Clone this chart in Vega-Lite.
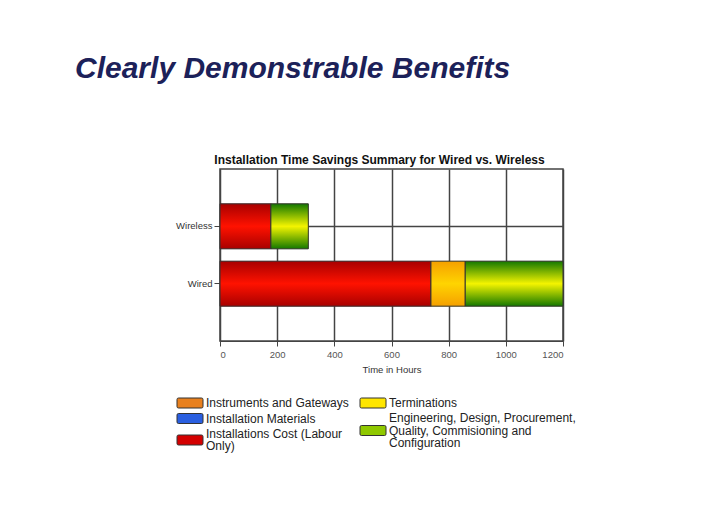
{
  "$schema": "https://vega.github.io/schema/vega-lite/v6.json",
  "width": 343,
  "height": 172,
  "autosize": {"type": "none"},
  "padding": {"left": 220, "top": 169, "right": 147, "bottom": 182},
  "background": "white",
  "title": {
    "text": "Clearly Demonstrable Benefits",
    "anchor": "start",
    "frame": "group",
    "dx": -145,
    "offset": 69,
    "font": "Liberation Sans",
    "fontSize": 30,
    "fontStyle": "italic",
    "fontWeight": "bold",
    "color": "#1c2159"
  },
  "config": {
    "view": {"stroke": "#444", "strokeWidth": 1.5},
    "font": "Liberation Sans",
    "axis": {"labelFont": "Liberation Sans", "titleFont": "Liberation Sans"},
    "legend": {"labelFont": "Liberation Sans"}
  },
  "data": {
    "values": [
      {"tech": "Wireless", "category": "Installations Cost (Labour Only)", "hours": 178, "order": 1},
      {"tech": "Wireless", "category": "Engineering, Design, Procurement, Quality, Commisioning and Configuration", "hours": 131, "order": 3},
      {"tech": "Wired", "category": "Installations Cost (Labour Only)", "hours": 738, "order": 1},
      {"tech": "Wired", "category": "Terminations", "hours": 120, "order": 2},
      {"tech": "Wired", "category": "Engineering, Design, Procurement, Quality, Commisioning and Configuration", "hours": 342, "order": 3}
    ]
  },
  "transform": [
    {"stack": "hours", "groupby": ["tech"], "sort": [{"field": "order", "order": "ascending"}], "as": ["x0", "x1"]}
  ],
  "encoding": {
    "y": {
      "field": "tech",
      "type": "nominal",
      "sort": ["Wireless", "Wired"],
      "scale": {"paddingInner": 0.215, "paddingOuter": 0.607},
      "axis": {
        "title": null,
        "grid": true,
        "gridColor": "#444",
        "gridWidth": 1.5,
        "domain": false,
        "tickColor": "#444",
        "tickSize": 6,
        "labelPadding": 2,
        "labelFontSize": 9.5,
        "labelColor": "#333"
      }
    }
  },
  "layer": [
    {
      "transform": [{"filter": "datum.category == 'Installations Cost (Labour Only)'"}],
      "mark": {"type": "bar"},
      "encoding": {
        "x": {
          "field": "x0",
          "type": "quantitative",
          "scale": {"domain": [0, 1200], "nice": false},
          "axis": {
            "values": [0, 200, 400, 600, 800, 1000, 1200],
            "format": "d",
            "grid": true,
            "gridColor": "#444",
            "gridWidth": 1.5,
            "domainColor": "#444",
            "tickColor": "#444",
            "tickSize": 5,
            "labelColor": "#555",
            "labelFontSize": 9.5,
            "labelPadding": 3,
            "title": "Time in Hours",
            "titleFontSize": 9.5,
            "titleFontWeight": "normal",
            "titleColor": "#333",
            "titlePadding": 6
          }
        },
        "x2": {"field": "x1"},
        "color": {
          "field": "category",
          "type": "nominal",
          "scale": {
            "domain": ["Instruments and Gateways", "Installation Materials", "Installations Cost (Labour Only)"],
            "range": ["#e8801e", "#2a5fe0", "#d40000"]
          },
          "legend": {
            "orient": "none",
            "legendX": -36,
            "legendY": 228,
            "title": null,
            "padding": 0,
            "rowPadding": 1.5,
            "symbolType": "M-2.3,-1H2.3Q2.6,-1 2.6,-0.7V0.7Q2.6,1 2.3,1H-2.3Q-2.6,1 -2.6,0.7V-0.7Q-2.6,-1 -2.3,-1Z",
            "symbolSize": 100,
            "symbolStrokeColor": "#333",
            "symbolStrokeWidth": 1,
            "symbolOpacity": 1,
            "labelOffset": 10,
            "labelFontSize": 12,
            "labelColor": "#222",
            "labelLimit": 300,
            "labelExpr": "datum.label == 'Installations Cost (Labour Only)' ? ['Installations Cost (Labour', 'Only)'] : datum.label",
            "encode": {"labels": {"update": {
              "lineHeight": {"value": 12.5},
              "dy": {"signal": "datum.value == 'Installations Cost (Labour Only)' ? -6.25 : 0"}
            }}}
          }
        }
      }
    },
    {
      "transform": [{"filter": "datum.category != 'Installations Cost (Labour Only)'"}],
      "mark": {"type": "bar"},
      "encoding": {
        "x": {
          "field": "x0",
          "type": "quantitative",
          "axis": {
            "orient": "top",
            "labels": false,
            "ticks": false,
            "domain": false,
            "grid": false,
            "title": "Installation Time Savings Summary for Wired vs. Wireless",
            "titleFontSize": 12,
            "titleFontWeight": "bold",
            "titleColor": "#111",
            "titlePadding": 3,
            "titleX": 159,
            "titleAlign": "center"
          }
        },
        "x2": {"field": "x1"},
        "color": {
          "field": "category",
          "type": "nominal",
          "scale": {
            "domain": ["Terminations", "Engineering, Design, Procurement, Quality, Commisioning and Configuration"],
            "range": ["#ffe600", "#8fc800"]
          },
          "legend": {
            "orient": "none",
            "legendX": 147,
            "legendY": 228,
            "title": null,
            "padding": 0,
            "rowPadding": 1.5,
            "symbolType": "M-2.3,-1H2.3Q2.6,-1 2.6,-0.7V0.7Q2.6,1 2.3,1H-2.3Q-2.6,1 -2.6,0.7V-0.7Q-2.6,-1 -2.3,-1Z",
            "symbolSize": 100,
            "symbolStrokeColor": "#333",
            "symbolStrokeWidth": 1,
            "symbolOpacity": 1,
            "labelOffset": 10,
            "labelFontSize": 12,
            "labelColor": "#222",
            "labelLimit": 300,
            "labelExpr": "datum.label == 'Engineering, Design, Procurement, Quality, Commisioning and Configuration' ? ['Engineering, Design, Procurement,', 'Quality, Commisioning and', 'Configuration'] : datum.label",
            "encode": {"labels": {"update": {
              "lineHeight": {"value": 12.5},
              "dy": {"signal": "datum.value == 'Terminations' ? 0 : -12.5"}
            }}}
          }
        }
      }
    },
    {
      "transform": [{"filter": "datum.category == 'Installations Cost (Labour Only)'"}],
      "mark": {
        "type": "bar",
        "stroke": "#333",
        "strokeWidth": 1,
        "color": {"gradient": "linear", "x1": 0, "y1": 0, "x2": 0, "y2": 1,
          "stops": [{"offset": 0, "color": "#a80000"}, {"offset": 0.5, "color": "#ff1200"}, {"offset": 1, "color": "#a80000"}]}
      },
      "encoding": {
        "x": {"field": "x0", "type": "quantitative", "axis": null},
        "x2": {"field": "x1"}
      }
    },
    {
      "transform": [{"filter": "datum.category == 'Terminations'"}],
      "mark": {
        "type": "bar",
        "stroke": "#333",
        "strokeWidth": 1,
        "color": {"gradient": "linear", "x1": 0, "y1": 0, "x2": 0, "y2": 1,
          "stops": [{"offset": 0, "color": "#f5a000"}, {"offset": 0.5, "color": "#ffd400"}, {"offset": 1, "color": "#f5a000"}]}
      },
      "encoding": {
        "x": {"field": "x0", "type": "quantitative", "axis": null},
        "x2": {"field": "x1"}
      }
    },
    {
      "transform": [{"filter": "datum.order == 3"}],
      "mark": {
        "type": "bar",
        "stroke": "#333",
        "strokeWidth": 1,
        "color": {"gradient": "linear", "x1": 0, "y1": 0, "x2": 0, "y2": 1,
          "stops": [{"offset": 0, "color": "#147800"}, {"offset": 0.5, "color": "#f4f400"}, {"offset": 1, "color": "#147800"}]}
      },
      "encoding": {
        "x": {"field": "x0", "type": "quantitative", "axis": null},
        "x2": {"field": "x1"}
      }
    }
  ],
  "resolve": {
    "scale": {"color": "independent"},
    "legend": {"color": "independent"},
    "axis": {"x": "independent"}
  }
}
